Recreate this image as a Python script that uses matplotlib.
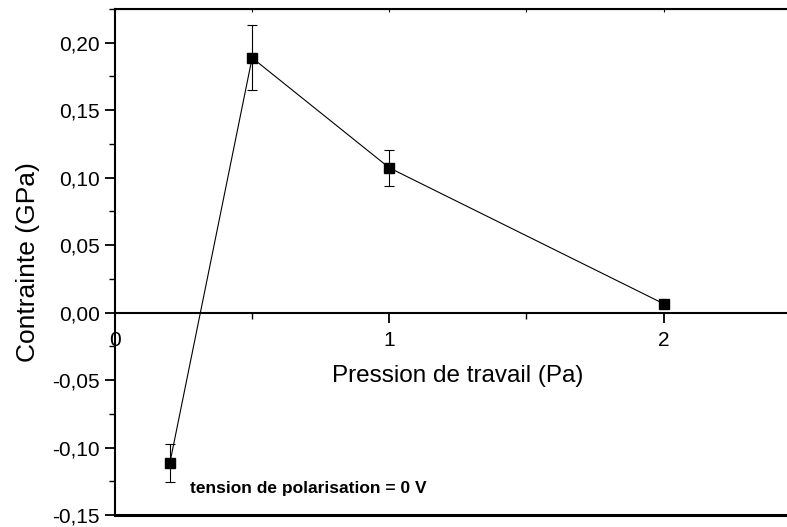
import numpy as np
import matplotlib
matplotlib.use('Agg')
import matplotlib.pyplot as plt
from matplotlib.ticker import MultipleLocator, FuncFormatter

plt.rcParams['font.family'] = 'Liberation Sans'

# Contrainte vs pression de travail
pression = [0.2, 0.5, 1.0, 2.0]
contrainte = [-0.1115, 0.1888, 0.1073, 0.0066]
erreur = [0.014, 0.024, 0.0135, 0.0]

fig = plt.figure(figsize=(7.87, 5.27), dpi=100)
ax = fig.add_axes([0.1461, 0.0228, 0.8539, 0.9601])

ax.errorbar(pression, contrainte, yerr=erreur, color='black', lw=0.8,
            marker='s', ms=6.5, mfc='black', mec='black',
            ecolor='black', elinewidth=0.8, capsize=3.5, capthick=0.8)

ax.set_xlim(0, 2.45)
ax.set_ylim(-0.15, 0.225)

# x axis drawn through zero, frame line kept at the bottom
ax.spines['bottom'].set_position(('data', 0))
ax.spines['right'].set_visible(False)
for s in ['left', 'bottom', 'top']:
    ax.spines[s].set_linewidth(1.5)
ax.axhline(-0.15, color='black', lw=2.2, clip_on=False)

ax.xaxis.set_major_locator(MultipleLocator(1))
ax.xaxis.set_minor_locator(MultipleLocator(0.5))
ax.yaxis.set_major_locator(MultipleLocator(0.05))
ax.yaxis.set_minor_locator(MultipleLocator(0.025))
ax.yaxis.set_major_formatter(FuncFormatter(lambda v, p: f"{v:.2f}".replace('.', ',').replace('-0,00', '0,00')))

ax.tick_params(axis='both', which='major', labelsize=15, width=1.3, length=7, direction='out')
ax.tick_params(axis='both', which='minor', width=1.0, length=4, direction='out')
ax.tick_params(axis='x', which='major', pad=6)
ax.tick_params(axis='y', which='major', pad=4)

secax = ax.secondary_xaxis('top')
secax.xaxis.set_major_locator(MultipleLocator(0.5))
secax.tick_params(direction='in', length=2, width=0.8, labeltop=False)
ax.tick_params(axis='x', which='both', top=False)

ax.set_ylabel('Contrainte (GPa)', fontsize=19, labelpad=9)
ax.text(1.25, -0.047, 'Pression de travail (Pa)', fontsize=17.5, ha='center', va='center')
ax.text(0.275, -0.1305, 'tension de polarisation = 0 V', fontsize=12.5,
        fontweight='bold', ha='left', va='center')

fig.savefig('out.png', dpi=100)
